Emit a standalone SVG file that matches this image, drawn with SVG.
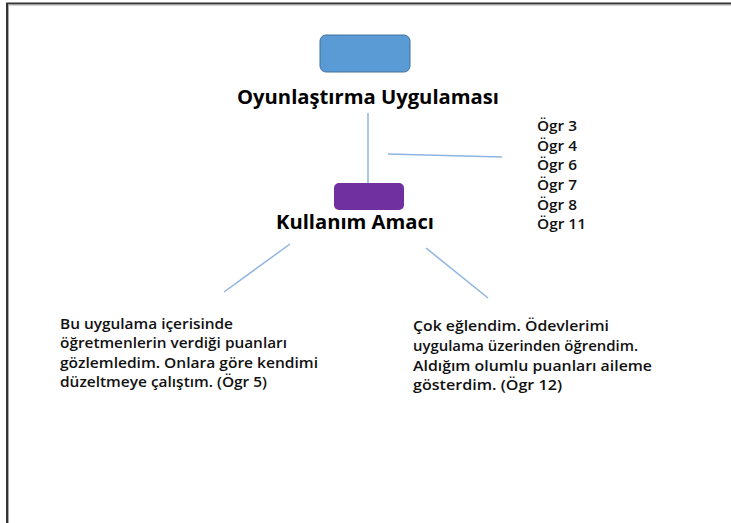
<svg xmlns="http://www.w3.org/2000/svg" width="731" height="523" viewBox="0 0 731 523">
<style>
.t{font-family:"Open Sans","Liberation Sans",sans-serif;fill:#000}
.h{font-size:19px;font-weight:bold}
.s{font-size:14.5px;font-weight:600;fill:#111}
.c{stroke:#8DB4E2;stroke-width:1.5;fill:none}
</style>
<rect width="731" height="523" fill="#fff"/>
<rect x="7" y="3.5" width="740" height="540" fill="none" stroke="#333" stroke-width="2"/>
<rect x="8.5" y="5" width="740" height="540" fill="none" stroke="#aaa" stroke-width="1"/>
<g id="connectors">
<line class="c" x1="368" y1="113" x2="368" y2="183"/>
<line class="c" x1="388" y1="154" x2="502" y2="157"/>
<line class="c" x1="224" y1="292" x2="290" y2="244"/>
<line class="c" x1="426" y1="248" x2="488" y2="298"/>
</g>
<g id="node-oyun">
<rect x="320" y="35" width="90" height="37" rx="6" fill="#5B9BD5" stroke="#41719C" stroke-width="1"/>
<text class="t h" x="237" y="104" textLength="262" lengthAdjust="spacingAndGlyphs">Oyunlaştırma Uygulaması</text>
</g>
<g id="node-kullanim">
<rect x="334" y="183" width="70" height="27" rx="5" fill="#7030A0"/>
<text class="t h" x="276" y="229" textLength="158" lengthAdjust="spacingAndGlyphs">Kullanım Amacı</text>
</g>
<g id="node-ogr">
<text class="t s" x="537" y="131" textLength="40" lengthAdjust="spacingAndGlyphs">Ögr 3</text>
<text class="t s" x="537" y="151" textLength="40" lengthAdjust="spacingAndGlyphs">Ögr 4</text>
<text class="t s" x="537" y="170" textLength="40" lengthAdjust="spacingAndGlyphs">Ögr 6</text>
<text class="t s" x="537" y="190" textLength="40" lengthAdjust="spacingAndGlyphs">Ögr 7</text>
<text class="t s" x="537" y="210" textLength="40" lengthAdjust="spacingAndGlyphs">Ögr 8</text>
<text class="t s" x="537" y="229" textLength="49" lengthAdjust="spacingAndGlyphs">Ögr 11</text>
</g>
<g id="node-left">
<text class="t s" x="60" y="329" textLength="173" lengthAdjust="spacingAndGlyphs">Bu uygulama içerisinde</text>
<text class="t s" x="60" y="348" textLength="227" lengthAdjust="spacingAndGlyphs">öğretmenlerin verdiği puanları</text>
<text class="t s" x="60" y="368" textLength="258" lengthAdjust="spacingAndGlyphs">gözlemledim. Onlara göre kendimi</text>
<text class="t s" x="60" y="387" textLength="207" lengthAdjust="spacingAndGlyphs">düzeltmeye çalıştım. (Ögr 5)</text>
</g>
<g id="node-right">
<text class="t s" x="413" y="331" textLength="196" lengthAdjust="spacingAndGlyphs">Çok eğlendim. Ödevlerimi</text>
<text class="t s" x="413" y="351" textLength="225" lengthAdjust="spacingAndGlyphs">uygulama üzerinden öğrendim.</text>
<text class="t s" x="413" y="371" textLength="239" lengthAdjust="spacingAndGlyphs">Aldığım olumlu puanları aileme</text>
<text class="t s" x="413" y="390" textLength="149" lengthAdjust="spacingAndGlyphs">gösterdim. (Ögr 12)</text>
</g>
</svg>
